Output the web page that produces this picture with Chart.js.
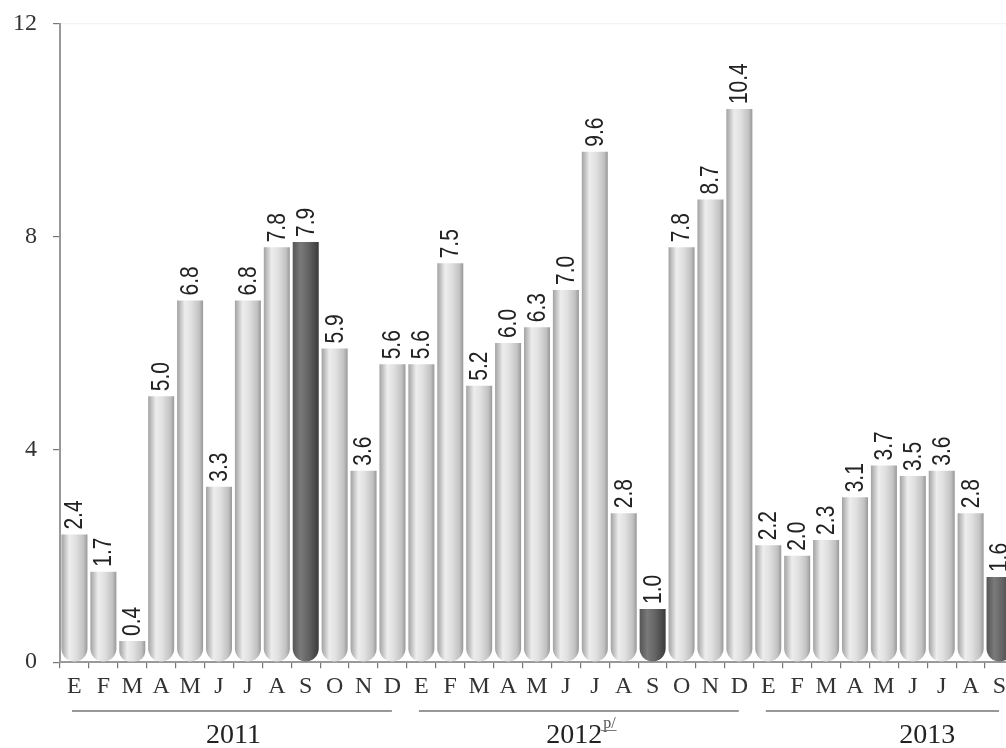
<!DOCTYPE html>
<html>
<head>
<meta charset="utf-8">
<script src="https://cdn.jsdelivr.net/npm/chart.js@4"></script>
<style>
  html, body { margin: 0; padding: 0; background: #fff; overflow: hidden; }
  #wrap { position: relative; width: 1016px; height: 748px; }
</style>
</head>
<body>
<div id="wrap"><canvas id="c"></canvas></div>
<script>
// months, Spanish initials
const months = ['E','F','M','A','M','J','J','A','S','O','N','D',
                'E','F','M','A','M','J','J','A','S','O','N','D',
                'E','F','M','A','M','J','J','A','S'];
const values = [2.4, 1.7, 0.4, 5.0, 6.8, 3.3, 6.8, 7.8, 7.9, 5.9, 3.6, 5.6,
                5.6, 7.5, 5.2, 6.0, 6.3, 7.0, 9.6, 2.8, 1.0, 7.8, 8.7, 10.4,
                2.2, 2.0, 2.3, 3.1, 3.7, 3.5, 3.6, 2.8, 1.6];
const darkBars = [8, 20, 32];
const years = ['2011', '2012', '2013'];
const yearSup = ['', 'p/', ''];
const yearStart = [0, 12, 24];
const yearEnd = [11, 23, 32];
const yTicks = [0, 4, 8, 12];

const SERIF = "'Liberation Serif', 'DejaVu Serif', serif";
const SANS = "'Liberation Sans', Arial, sans-serif";

function barFill(ctx) {
  const chart = ctx.chart;
  const dark = darkBars.includes(ctx.dataIndex);
  const x = chart.scales.x;
  if (!x || !chart.chartArea) return dark ? '#666' : '#d8d8d8';
  const cx = x.getPixelForValue(ctx.dataIndex);
  const half = x.width / months.length * 0.9 / 2;
  const g = chart.ctx.createLinearGradient(cx - half, 0, cx + half, 0);
  if (dark) {
    g.addColorStop(0, '#555');
    g.addColorStop(0.3, '#7a7a7a');
    g.addColorStop(0.6, '#646464');
    g.addColorStop(1, '#3a3a3a');
  } else {
    g.addColorStop(0, '#a2a2a2');
    g.addColorStop(0.3, '#ededed');
    g.addColorStop(0.55, '#e0e0e0');
    g.addColorStop(0.85, '#c2c2c2');
    g.addColorStop(1, '#989898');
  }
  return g;
}

const valueLabels = {
  id: 'valueLabels',
  afterDatasetsDraw(chart) {
    const c = chart.ctx;
    const meta = chart.getDatasetMeta(0);
    c.save();
    c.font = '25px ' + SANS;
    c.fillStyle = '#222';
    c.textAlign = 'left';
    c.textBaseline = 'middle';
    meta.data.forEach((bar, i) => {
      c.save();
      c.translate(bar.x + 1, bar.y - 5);
      c.rotate(-Math.PI / 2);
      c.scale(0.84, 1);
      c.fillText(values[i].toFixed(1), 0, 0);
      c.restore();
    });
    c.restore();
  }
};

const yearLabels = {
  id: 'yearLabels',
  afterDraw(chart) {
    const c = chart.ctx;
    const x = chart.scales.x;
    const step = x.width / months.length;
    const lineY = 711;
    c.save();
    years.forEach((yr, k) => {
      const x0 = x.getPixelForValue(yearStart[k]) - step / 2 + 12;
      const x1 = x.getPixelForValue(yearEnd[k]) + step / 2 - 15;
      c.strokeStyle = '#333';
      c.lineWidth = 1.2;
      c.beginPath();
      c.moveTo(x0, lineY);
      c.lineTo(Math.min(x1, chart.width), lineY);
      c.stroke();
      const mid = (x.getPixelForValue(yearStart[k]) + x.getPixelForValue(yearStart[k] + 11)) / 2;
      c.font = '28px ' + SERIF;
      c.fillStyle = '#222';
      c.textBaseline = 'alphabetic';
      const w = c.measureText(yr).width;
      let sw = 0;
      if (yearSup[k]) {
        c.font = '16px ' + SERIF;
        sw = c.measureText(yearSup[k]).width;
      }
      const tx = mid - (w + sw) / 2;
      c.font = '28px ' + SERIF;
      c.textAlign = 'left';
      c.fillText(yr, tx, 743);
      if (yearSup[k]) {
        c.font = '16px ' + SERIF;
        c.fillStyle = '#555';
        c.fillText(yearSup[k], tx + w + 1, 728);
        c.strokeStyle = '#777';
        c.lineWidth = 1;
        c.beginPath();
        c.moveTo(tx + w - 1, 730.5);
        c.lineTo(tx + w + sw + 2, 730.5);
        c.stroke();
      }
    });
    c.restore();
  }
};

new Chart(document.getElementById('c'), {
  type: 'bar',
  data: {
    labels: months,
    datasets: [{
      data: values,
      backgroundColor: barFill,
      borderWidth: 0,
      borderSkipped: false,
      borderRadius: { topLeft: 0, topRight: 0, bottomLeft: 14, bottomRight: 14 },
      barPercentage: 0.9,
      categoryPercentage: 1.0
    }]
  },
  options: {
    responsive: true,
    maintainAspectRatio: false,
    animation: false,
    layout: { padding: { top: 24, right: 2, bottom: 43, left: 0 } },
    plugins: { legend: { display: false }, tooltip: { enabled: false } },
    scales: {
      x: {
        grid: { display: true, drawOnChartArea: false, tickLength: 6, color: '#777', lineWidth: 1.2 },
        border: { display: true, color: '#999', width: 2 },
        ticks: { font: { family: SERIF, size: 24 }, color: '#333', padding: 4, maxRotation: 0, autoSkip: false }
      },
      y: {
        min: 0, max: 12,
        afterBuildTicks: s => { s.ticks = yTicks.map(v => ({ value: v })); },
        afterFit: s => { s.width = 60; s.paddingTop = 0; },
        grid: {
          drawOnChartArea: true, tickLength: 7,
          color: c => (c.tick && c.tick.value === 12 ? '#f3f3f3' : 'rgba(0,0,0,0)'),
          tickColor: '#777', lineWidth: 1.2
        },
        border: { display: true, color: '#999', width: 2 },
        ticks: { font: { family: SERIF, size: 24 }, color: '#333', padding: 16 }
      }
    }
  },
  plugins: [valueLabels, yearLabels]
});
</script>
</body>
</html>
